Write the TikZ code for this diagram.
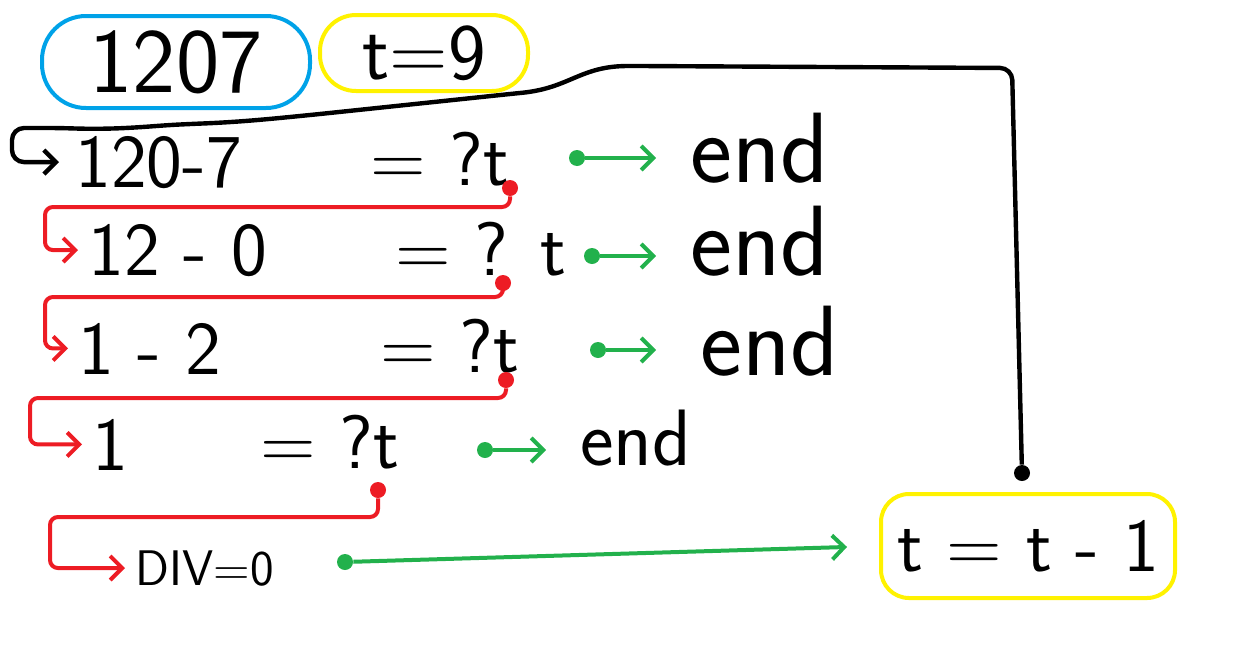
\documentclass[tikz,border=0pt]{standalone}
\usepackage{xcolor}
\usepackage{tikz}
\usetikzlibrary{arrows.meta}

\definecolor{paintblue}{RGB}{0,162,232}
\definecolor{paintyellow}{RGB}{255,242,0}
\definecolor{paintred}{RGB}{237,28,36}
\definecolor{paintgreen}{RGB}{34,177,76}

\begin{document}
\begin{tikzpicture}[x=0.5pt,y=-0.5pt,
    txt/.style={font=\sffamily\fontsize{38}{44}\selectfont, inner sep=0pt, anchor=base west},
    endtxt/.style={font=\sffamily\fontsize{50}{56}\selectfont, inner sep=0pt, anchor=base west},
    blob/.style={circle, fill=#1, inner sep=0pt, minimum size=8pt},
    redline/.style={paintred, line width=2pt, rounded corners=4pt, -{Straight Barb[length=6pt,width=12pt]}, shorten >=5pt},
    greenline/.style={paintgreen, line width=2pt, -{Straight Barb[length=6pt,width=12pt]}},
    blackline/.style={black, line width=2.2pt, rounded corners=6pt, -{Straight Barb[length=6pt,width=12pt]}, shorten >=8pt}]
    \useasboundingbox (0,0) rectangle (1240,648);

    % start value and counter
    \node[draw=paintblue, line width=2pt, rounded corners=22pt, minimum width=134pt, minimum height=46pt,
          font=\sffamily\fontsize{46}{52}\selectfont] (num) at (176,62) {1207};
    \node[draw=paintyellow, line width=2pt, rounded corners=18pt, minimum width=104pt, minimum height=38pt,
          font=\sffamily\fontsize{40}{46}\selectfont] (tnine) at (424,53) {t=9};

    % rows
    \node[txt] (l1) at (75,187) {120-7};
    \node[txt] (q1) at (370,185) {= ?t};
    \node[endtxt] (e1) at (690,182) {end};

    \node[txt] (l2) at (88,275) {12 - 0};
    \node[txt] (q2) at (395,275) {= ? t};
    \node[endtxt] (e2) at (690,275) {end};

    \node[txt] (l3) at (78,374) {1 - 2};
    \node[txt] (q3) at (380,372) {= ?t};
    \node[endtxt] (e3) at (700,375) {end};

    \node[txt] (l4) at (92,470) {1};
    \node[txt] (q4) at (260,468) {= ?t};
    \node[endtxt, font=\sffamily\fontsize{40}{46}\selectfont] (e4) at (580,465) {end};

    \node[txt, font=\sffamily\fontsize{25}{30}\selectfont] (l5) at (135,585) {DIV=0};

    % t = t - 1
    \node[draw=paintyellow, line width=2pt, rounded corners=14pt, minimum width=147pt, minimum height=52pt,
          font=\sffamily\fontsize{38}{44}\selectfont] (tt) at (1028,546) {t = t - 1};

    % dots
    \node[blob=paintred] (r1) at (510,188) {};
    \node[blob=paintred] (r2) at (503,283) {};
    \node[blob=paintred] (r3) at (506,380) {};
    \node[blob=paintred] (r4) at (378,490) {};
    \node[blob=paintgreen] (g1) at (577,158) {};
    \node[blob=paintgreen] (g2) at (592,256) {};
    \node[blob=paintgreen] (g3) at (598,350) {};
    \node[blob=paintgreen] (g4) at (485,450) {};
    \node[blob=paintgreen] (g5) at (345,562) {};
    \node[blob=black] (bd) at (1022,473) {};

    % green: to end
    \draw[greenline, shorten >=17pt] (g1) -- (g1 -| e1.west);
    \draw[greenline, shorten >=17pt] (g2) -- (g2 -| e2.west);
    \draw[greenline, shorten >=22pt] (g3) -- (g3 -| e3.west);
    \draw[greenline, shorten >=17pt] (g4) -- (g4 -| e4.west);
    \draw[greenline, shorten >=16pt] (g5) -- (tt.west);

    % red: next digit
    \draw[redline] (r1) |- (45,207) |- (l2.west);
    \draw[redline] (r2) |- (45,297) |- (l3.west);
    \draw[redline] (r3) |- (30,398) |- (l4.west);
    \draw[redline] (r4) |- (50,517) |- (l5.west);

    % black: back to the top
    \draw[blackline] (bd) -- (1012,68) -- (640,66)
        .. controls (580,66) and (570,88) .. (510,94) -- (320,114)
        .. controls (270,119) and (240,122) .. (190,124)
        .. controls (150,126) and (120,130) .. (60,128) -- (12,128) |- (l1.west);
\end{tikzpicture}
\end{document}
